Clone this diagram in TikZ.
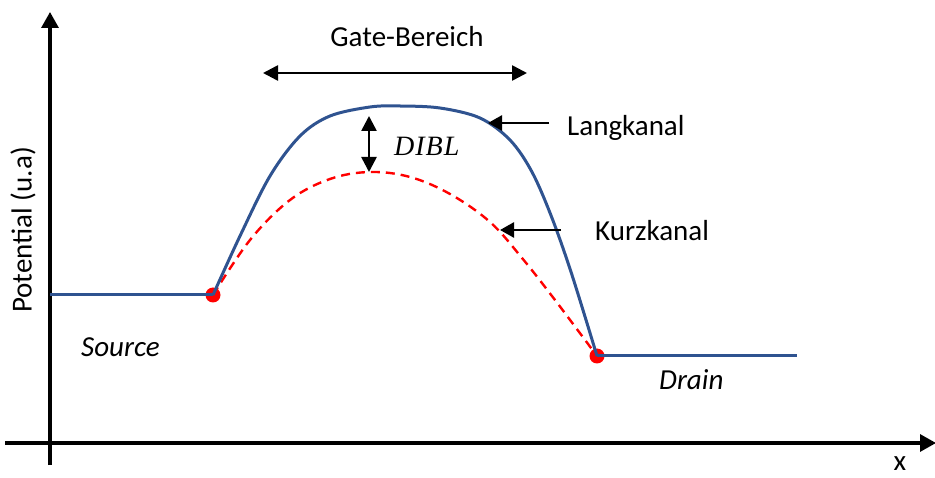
\documentclass[tikz,border=0pt]{standalone}
\usepackage{fontspec}
\setmainfont{Carlito}
\newfontfamily\mathlike{Liberation Serif}
\usetikzlibrary{arrows.meta}
\definecolor{curveblue}{HTML}{2F5390}
\begin{document}
\begin{tikzpicture}[x=1pt,y=-1pt,
  axis/.style={line width=3.2pt,-{Triangle[length=16pt,width=17pt]}},
  pointer/.style={line width=2.6pt,-{Triangle[length=14pt,width=15pt]}},
  both/.style={line width=2.6pt,{Triangle[length=15pt,width=15pt]}-{Triangle[length=15pt,width=15pt]}},
  longcurve/.style={curveblue,line width=3pt,line join=round},
  shortcurve/.style={red,line width=2.4pt,dash pattern=on 9pt off 6pt},
  dot/.style={circle,fill=red,inner sep=0pt,minimum size=15pt},
  lbl/.style={font=\fontsize{29}{32}\selectfont,inner sep=0pt},
  ilbl/.style={font=\fontsize{29}{32}\selectfont\itshape,inner sep=0pt}]
\useasboundingbox (0,0) rectangle (935,478);
% axes
\coordinate (xs) at (5,443);
\coordinate (xe) at (936,443);
\coordinate (ys) at (50,465);
\coordinate (ye) at (50,12);
\draw[axis] (xs) -- (xe);
\draw[axis] (ys) -- (ye);
% key points
\coordinate (s0) at (50,295);
\coordinate (s1) at (213,295);
\coordinate (d1) at (597,356);
\coordinate (d2) at (797,356);
% dots
\node[dot] (ds) at (s1) {};
\node[dot] (dd) at (d1) {};
% short-channel (dashed)
\draw[shortcurve] plot[smooth,tension=0.6] coordinates {(213,295) (250,240) (290,200) (330,179) (370,172) (410,177) (450,194) (490,222) (522,258) (555,300) (597,356)};
% long-channel
\draw[longcurve] (s0) -- (s1);
\draw[longcurve] plot[smooth,tension=0.55] coordinates {(213,295) (240,236) (270,176) (300,136) (330,116) (370,107) (400,106) (440,108) (480,118) (510,140) (532,172) (552,218) (572,275) (597,356)};
\draw[longcurve] (d1) -- (d2);
% labels
\node[lbl] (gate) at (407,37) {Gate-Bereich};
\coordinate (gl) at (263,73);
\coordinate (gr) at (527,73);
\draw[both] (gl) -- (gr);
\coordinate (dt) at (369,116);
\coordinate (db) at (369,172);
\draw[both] (dt) -- (db);
\node[inner sep=0pt,anchor=west,font=\fontsize{28}{30}\mathlike\itshape] (dibl) at (394,146) {D\kern1ptI\kern1ptB\kern1ptL};
\node[lbl,anchor=west] (lang) at (567,128) {Langkanal};
\coordinate (lt) at (549,123);
\coordinate (lh) at (488,123);
\draw[pointer] (lt) -- (lh);
\node[lbl,anchor=west] (kurz) at (595,231) {Kurzkanal};
\coordinate (kt) at (561,230);
\coordinate (kh) at (500,230);
\draw[pointer] (kt) -- (kh);
\node[lbl,rotate=90] (pot) at (23,230) {Potential (u.a)};
\node[ilbl,anchor=west] (src) at (81,347) {Source};
\node[ilbl,anchor=west] (drn) at (659,380) {Drain};
\node[lbl] (xl) at (900,464) {x};
\end{tikzpicture}
\end{document}
